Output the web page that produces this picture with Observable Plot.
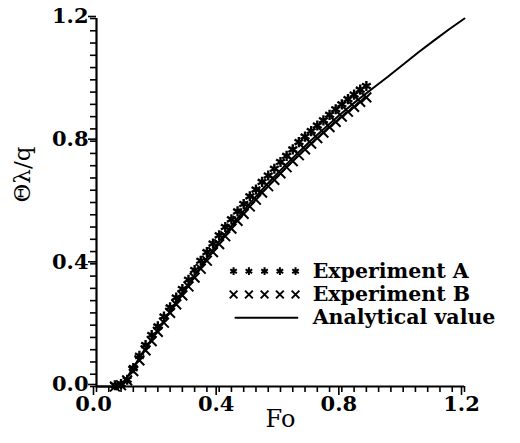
<!DOCTYPE html>
<html>
<head>
<meta charset="utf-8">
<script src="https://cdn.jsdelivr.net/npm/d3@7"></script>
<script src="https://cdn.jsdelivr.net/npm/@observablehq/plot@0.6"></script>
<style>
  html, body { margin: 0; padding: 0; background: #fff; }
</style>
</head>
<body>
<div id="chart"></div>
<script>
// Fourier number positions of the measured points
const foExp = [0.06,0.08,0.10,0.12,0.14,0.16,0.18,0.20,0.22,0.24,0.26,0.28,0.30,0.32,0.34,0.36,0.38,0.40,0.42,0.44,0.46,0.48,0.50,0.52,0.54,0.56,0.58,0.60,0.62,0.64,0.66,0.68,0.70,0.72,0.74,0.76,0.78,0.80,0.82,0.84,0.86,0.88];
// Experiment A (asterisks)
const expA = [0.004,0.008,0.022,0.060,0.100,0.135,0.168,0.196,0.228,0.258,0.290,0.318,0.348,0.380,0.410,0.438,0.466,0.493,0.520,0.545,0.571,0.595,0.620,0.642,0.667,0.688,0.710,0.732,0.752,0.773,0.797,0.815,0.833,0.851,0.868,0.886,0.904,0.920,0.937,0.952,0.968,0.980];
// Experiment B (crosses)
const expB = [0.000,0.004,0.020,0.050,0.085,0.118,0.148,0.178,0.208,0.240,0.268,0.297,0.326,0.355,0.384,0.410,0.438,0.464,0.490,0.515,0.540,0.563,0.587,0.609,0.632,0.653,0.674,0.695,0.715,0.735,0.754,0.773,0.792,0.810,0.828,0.846,0.863,0.880,0.896,0.912,0.928,0.943];
// Analytical curve
const foAna = [0.00,0.05,0.07,0.09,0.10,0.12,0.15,0.20,0.25,0.30,0.35,0.40,0.45,0.50,0.55,0.60,0.65,0.70,0.75,0.80,0.85,0.90,0.95,1.00,1.05,1.10,1.15,1.20];
const anaVal = [0.000,0.000,0.005,0.018,0.030,0.062,0.110,0.185,0.260,0.333,0.405,0.473,0.537,0.597,0.653,0.705,0.755,0.803,0.848,0.892,0.933,0.972,1.010,1.050,1.090,1.128,1.165,1.200];

const majorTicks = [0, 0.4, 0.8, 1.2];
const minorTicks = d3.range(0, 31).map(i => +(i * 0.04).toFixed(2));

const legendLabels = ["Experiment A", "Experiment B", "Analytical value"];
const legendSymbols = ["asterisk", "times", "line"];

const dataA = foExp.map((f, i) => ({fo: f, v: expA[i]}));
const dataB = foExp.map((f, i) => ({fo: f, v: expB[i]}));
const dataAna = foAna.map((f, i) => ({fo: f, v: anaVal[i]}));

// legend placement (in data units)
const legRowY = [0.376, 0.300, 0.224];
const legSymX = [0.447, 0.497, 0.548, 0.598, 0.649];
const legTextX = 0.705;
const legendDots = [];
for (let r = 0; r < 2; r++) for (const x of legSymX) legendDots.push({x, y: legRowY[r], s: legendSymbols[r]});
const legendLine = [{x: 0.453, y: legRowY[2]}, {x: 0.655, y: legRowY[2]}];
const legendText = legendLabels.map((t, i) => ({x: legTextX, y: legRowY[i], t}));

const font = {fontFamily: "DejaVu Serif", fontWeight: "bold"};

const chart = Plot.plot({
  width: 520,
  height: 443,
  marginLeft: 96,
  marginRight: 56,
  marginTop: 18,
  marginBottom: 57,
  style: {background: "#fff", color: "#000", fontFamily: "DejaVu Serif"},
  x: {domain: [0, 1.2]},
  y: {domain: [0, 1.2]},
  marks: [
    Plot.axisX({ticks: minorTicks, tickSize: 6, tickFormat: () => "", strokeWidth: 1.6, label: null}),
    Plot.axisX({ticks: majorTicks, tickSize: 8, tickPadding: 1, tickFormat: d3.format(".1f"), strokeWidth: 1.6, fontSize: 21, dx: -3, dy: 1, label: null, ...font}),
    Plot.axisY({ticks: minorTicks, tickSize: 6, tickFormat: () => "", strokeWidth: 1.6, label: null}),
    Plot.axisY({ticks: majorTicks, tickSize: 8, tickPadding: 0, tickFormat: d3.format(".1f"), strokeWidth: 1.6, fontSize: 21, dy: -2, label: null, ...font}),
    Plot.ruleY([0], {strokeWidth: 2.2}),
    Plot.ruleX([0], {strokeWidth: 2.2}),
    Plot.text(["Fo"], {frameAnchor: "bottom", dy: 40, fontSize: 24, ...font, fontWeight: "normal"}),
    Plot.text(["Θλ/q"], {frameAnchor: "left", dx: -74, rotate: -90, fontSize: 23, ...font, fontWeight: "normal"}),
    Plot.line(dataAna, {x: "fo", y: "v", stroke: "#000", strokeWidth: 2}),
    Plot.dot(dataB, {x: "fo", y: "v", symbol: "times", r: 4.5, stroke: "#000", strokeWidth: 2}),
    Plot.dot(dataA, {x: "fo", y: "v", symbol: "asterisk", r: 4.8, stroke: "#000", strokeWidth: 2.4}),
    Plot.dot(legendDots, {x: "x", y: "y", symbol: "s", r: 3.6, stroke: "#000", strokeWidth: 2}),
    Plot.line(legendLine, {x: "x", y: "y", stroke: "#000", strokeWidth: 2}),
    Plot.text(legendText, {x: "x", y: "y", text: "t", textAnchor: "start", fontSize: 20.5, ...font})
  ]
});
document.getElementById("chart").appendChild(chart);
</script>
</body>
</html>
